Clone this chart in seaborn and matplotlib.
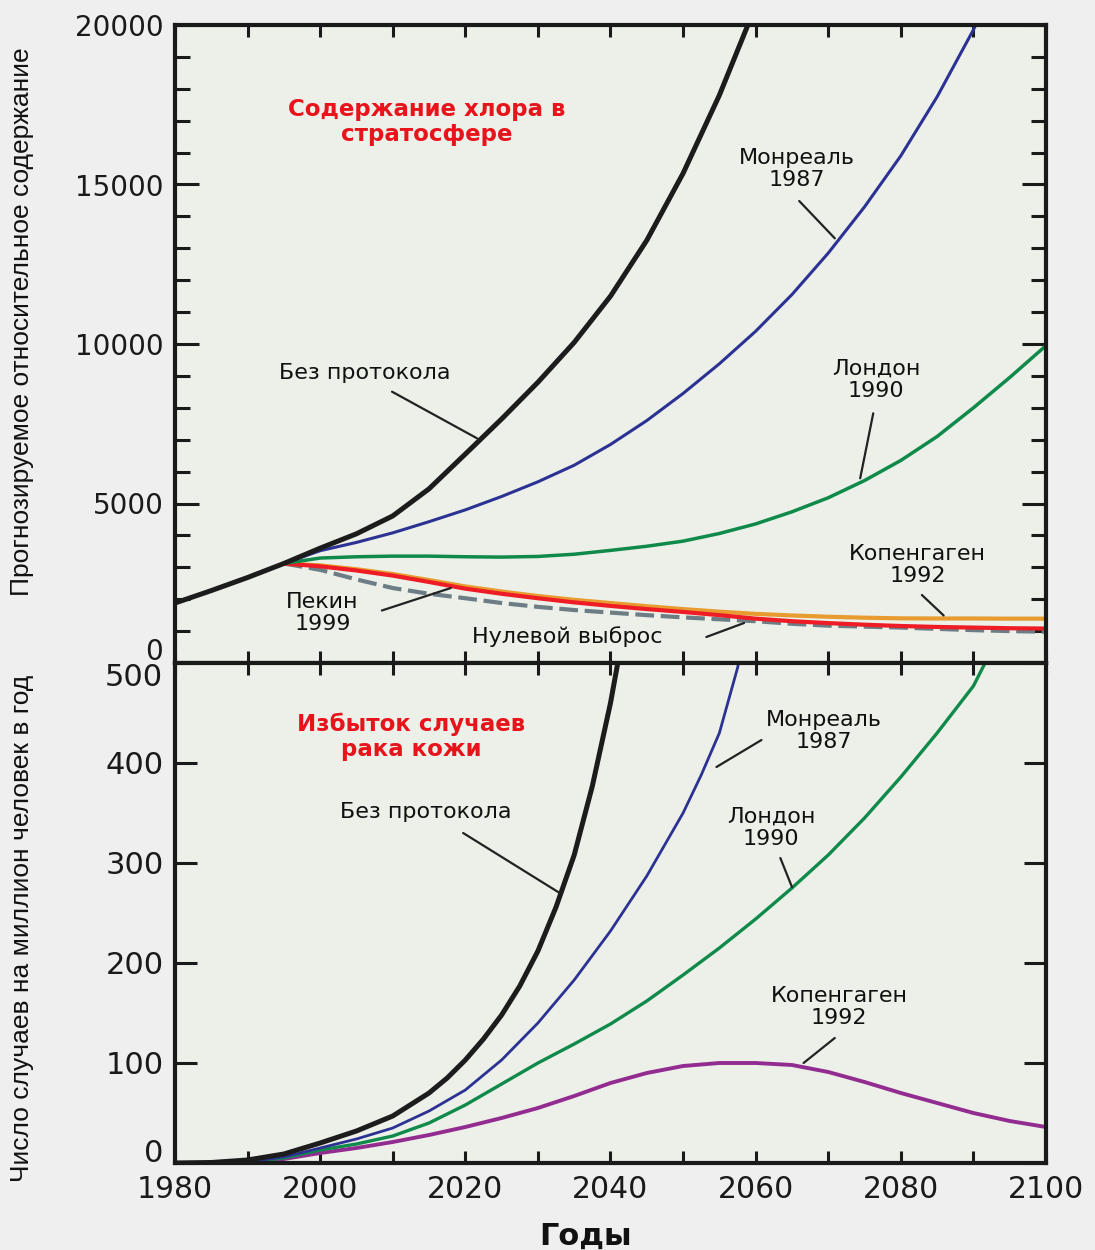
import numpy as np
import pandas as pd
import seaborn as sns
import matplotlib.pyplot as plt
from matplotlib.ticker import MultipleLocator, FuncFormatter, NullLocator

# ---------------- top panel: stratospheric chlorine ----------------
yr_none_top = [1980, 1985, 1990, 1995, 2000, 2005, 2010, 2015, 2020, 2025, 2030,
               2035, 2040, 2045, 2050, 2055, 2060]
cl_none = [1880, 2270, 2680, 3120, 3600, 4050, 4610, 5460, 6550, 7650, 8800,
           10050, 11500, 13250, 15350, 17800, 20600]

yr_mont_top = [1995, 2000, 2005, 2010, 2015, 2020, 2025, 2030, 2035, 2040, 2045,
               2050, 2055, 2060, 2065, 2070, 2075, 2080, 2085, 2090, 2092]
cl_mont = [3120, 3520, 3780, 4080, 4430, 4800, 5220, 5680, 6200, 6850, 7600,
           8450, 9380, 10400, 11550, 12850, 14300, 15900, 17750, 19850, 20800]

yr_late = [1995, 2000, 2005, 2010, 2015, 2020, 2025, 2030, 2035, 2040, 2045,
           2050, 2055, 2060, 2065, 2070, 2075, 2080, 2085, 2090, 2095, 2100]
cl_lond = [3120, 3290, 3330, 3350, 3350, 3330, 3320, 3340, 3410, 3530, 3660,
           3820, 4060, 4360, 4740, 5180, 5720, 6350, 7100, 8000, 8950, 9950]
cl_beij = [3120, 3030, 2900, 2740, 2540, 2330, 2170, 2030, 1900, 1790, 1690,
           1600, 1500, 1390, 1310, 1250, 1200, 1160, 1130, 1110, 1090, 1080]
cl_copen = [3120, 3060, 2940, 2790, 2600, 2400, 2240, 2100, 1980, 1880, 1780,
            1690, 1610, 1540, 1490, 1450, 1420, 1400, 1395, 1395, 1390, 1390]
cl_zero = [3120, 2920, 2620, 2350, 2170, 2030, 1880, 1760, 1660, 1580, 1500,
           1430, 1370, 1310, 1230, 1170, 1140, 1110, 1070, 1030, 1000, 980]

# ---------------- bottom panel: excess skin cancer cases ----------------
yr_none_bot = [1980, 1985, 1990, 1995, 2000, 2005, 2010, 2015, 2017.5, 2020,
               2022.5, 2025, 2027.5, 2030, 2032.5, 2035, 2037.5, 2040, 2042.5]
sc_none = [0, 0.5, 3, 9, 20, 32, 47, 70, 85, 103, 124, 148, 177, 212, 256, 308,
           377, 460, 560]

yr_mont_bot = [1985, 1990, 1995, 2000, 2005, 2010, 2015, 2020, 2025, 2030, 2035,
               2040, 2045, 2050, 2052.5, 2055, 2057.5, 2059]
sc_mont = [0, 1, 6, 15, 24, 35, 52, 73, 103, 140, 183, 232, 287, 350, 388, 430,
           495, 545]

yr_lond_bot = [1985, 1990, 1995, 2000, 2005, 2010, 2015, 2020, 2025, 2030, 2035,
               2040, 2045, 2050, 2055, 2060, 2065, 2070, 2075, 2080, 2085, 2090, 2093]
sc_lond = [0, 1, 5, 13, 19, 27, 40, 58, 79, 100, 119, 139, 162, 188, 215, 244,
           275, 308, 345, 386, 430, 477, 520]

yr_copen_bot = [1985, 1990, 1995, 2000, 2005, 2010, 2015, 2020, 2025, 2030, 2035,
                2040, 2045, 2050, 2055, 2060, 2065, 2070, 2075, 2080, 2085, 2090,
                2095, 2100]
sc_copen = [0, 0.5, 4, 10, 15, 21, 28, 36, 45, 55, 67, 80, 90, 97, 100, 100, 98,
            91, 81, 70, 60, 50, 42, 36]

C_BLACK = '#1c1c1c'
C_BLUE = '#2b3293'
C_GREEN = '#0f8a4a'
C_RED = '#ee1c25'
C_ORANGE = '#e89b2f'
C_GREY = '#6d7d86'
C_PURPLE = '#932c91'
C_FACE = '#ecf0e8'

sns.set_style("ticks")
plt.rcParams['font.family'] = ['DejaVu Sans']

fig = plt.figure(figsize=(10.95, 12.5), dpi=100, facecolor='#efefef')
ax_top = fig.add_axes([175 / 1095, 1 - 663 / 1250, 871 / 1095, 638 / 1250])
ax_bot = fig.add_axes([175 / 1095, 1 - 1163 / 1250, 871 / 1095, 500 / 1250])


def draw(ax, x, y, color, lw, **kw):
    sns.lineplot(x=x, y=y, ax=ax, color=color, linewidth=lw,
                 estimator=None, sort=False, **kw)
    ax.lines[-1].set_solid_joinstyle('round')


# top panel curves
draw(ax_top, yr_late, cl_zero, C_GREY, 3.0)
ax_top.lines[-1].set_dashes([4.5, 1.6])
draw(ax_top, yr_late, cl_copen, C_ORANGE, 3.0)
draw(ax_top, yr_late, cl_beij, C_RED, 3.0)
draw(ax_top, yr_late, cl_lond, C_GREEN, 2.5)
draw(ax_top, yr_mont_top, cl_mont, C_BLUE, 2.2)
draw(ax_top, yr_none_top, cl_none, C_BLACK, 3.6)

# bottom panel curves
draw(ax_bot, yr_copen_bot, sc_copen, C_PURPLE, 2.8)
draw(ax_bot, yr_lond_bot, sc_lond, C_GREEN, 2.4)
draw(ax_bot, yr_mont_bot, sc_mont, C_BLUE, 2.0)
draw(ax_bot, yr_none_bot, sc_none, C_BLACK, 3.6)

for ax in (ax_top, ax_bot):
    ax.set_facecolor(C_FACE)
    ax.set_xlim(1980, 2100)
    ax.set_xlabel('')
    ax.set_ylabel('')
    for sp in ax.spines.values():
        sp.set_visible(True)
        sp.set_linewidth(3.0)
        sp.set_color('#1a1a1a')
    ax.xaxis.set_major_locator(MultipleLocator(20))
    ax.xaxis.set_minor_locator(MultipleLocator(10))
    ax.tick_params(axis='both', which='both', direction='in', top=True,
                   right=True, width=2.2, color='#1a1a1a', labelcolor='#1a1a1a')
    ax.tick_params(axis='x', which='both', length=8.5)

# labels that sit on a panel edge (top 0, bottom 500 and 0) are written by hand
# a little off the edge so they do not collide
ax_top.set_ylim(0, 20000)
ax_top.yaxis.set_major_locator(MultipleLocator(5000))
ax_top.yaxis.set_minor_locator(MultipleLocator(1000))
ax_top.yaxis.set_major_formatter(FuncFormatter(lambda v, p: '' if v == 0 else '%d' % v))
ax_top.tick_params(axis='y', which='major', length=17, pad=8, labelsize=20)
ax_top.tick_params(axis='y', which='minor', length=11)
ax_top.tick_params(axis='x', labelbottom=False)

ax_bot.set_ylim(0, 500)
ax_bot.yaxis.set_major_locator(MultipleLocator(100))
ax_bot.yaxis.set_minor_locator(NullLocator())
ax_bot.yaxis.set_major_formatter(
    FuncFormatter(lambda v, p: '' if v in (0, 500) else '%d' % v))
ax_bot.tick_params(axis='y', which='major', length=16, pad=8, labelsize=22)
ax_bot.tick_params(axis='x', which='major', pad=9, labelsize=21.5)

edge_x = -12 / 871
ax_top.text(edge_x, 345, '0', transform=ax_top.get_yaxis_transform(),
            ha='right', va='center', fontsize=20, color='#1a1a1a')
ax_bot.text(edge_x, 485, '500', transform=ax_bot.get_yaxis_transform(),
            ha='right', va='center', fontsize=22, color='#1a1a1a')
ax_bot.text(edge_x, 9, '0', transform=ax_bot.get_yaxis_transform(),
            ha='right', va='center', fontsize=22, color='#1a1a1a')

# panel titles
title_kw = dict(color='#e8141c', fontsize=16.5, fontweight='bold', ha='center',
                va='center', linespacing=1.1)
ax_top.text(2014.7, 16970, 'Содержание хлора в\nстратосфере', **title_kw)
ax_bot.text(2012.5, 426, 'Избыток случаев\nрака кожи', **title_kw)

lab_kw = dict(color='#111111', fontsize=16, ha='center', va='center',
              linespacing=1.15)
line_kw = dict(arrowstyle='-', color='#222222', lw=1.6, shrinkA=0, shrinkB=0)


def label(ax, text, pos, start, end):
    ax.text(pos[0], pos[1], text, **lab_kw)
    ax.annotate('', xy=end, xytext=start, arrowprops=line_kw)


label(ax_top, 'Без протокола', (2006.2, 9080), (2009.9, 8505), (2021.6, 7045))
label(ax_top, 'Монреаль\n1987', (2065.7, 15490), (2066.0, 14483), (2070.9, 13313))
label(ax_top, 'Лондон\n1990', (2076.6, 8870), (2076.2, 7828), (2074.4, 5790))
label(ax_top, 'Копенгаген\n1992', (2082.3, 3072), (2082.9, 2132), (2085.9, 1489))
label(ax_top, 'Пекин\n1999', (2000.3, 1567), (2008.5, 1646), (2018.0, 2351))
label(ax_top, 'Нулевой выброс', (2034.1, 824), (2053.2, 815), (2058.4, 1254))

label(ax_bot, 'Без протокола', (2014.6, 351), (2019.7, 330), (2033.0, 270))
label(ax_bot, 'Монреаль\n1987', (2069.4, 432), (2060.8, 423), (2054.6, 396))
label(ax_bot, 'Лондон\n1990', (2062.1, 335), (2063.4, 305), (2065.0, 276))
label(ax_bot, 'Копенгаген\n1992', (2071.5, 156), (2070.9, 125), (2066.6, 100))

# axis titles
ylab_kw = dict(rotation=90, ha='center', va='center', fontsize=19,
               color='#111111',
               family=['Liberation Sans Narrow', 'Liberation Sans', 'DejaVu Sans'])
fig.text(22 / 1095, 1 - 322 / 1250, 'Прогнозируемое относительное содержание', **ylab_kw)
fig.text(22 / 1095, 1 - 928 / 1250, 'Число случаев на миллион человек в год', **ylab_kw)
fig.text(586 / 1095, 1 - 1236 / 1250, 'Годы', ha='center', va='center',
         fontsize=22, fontweight='bold', color='#111111')

fig.savefig('out.png', dpi=100, facecolor=fig.get_facecolor())
